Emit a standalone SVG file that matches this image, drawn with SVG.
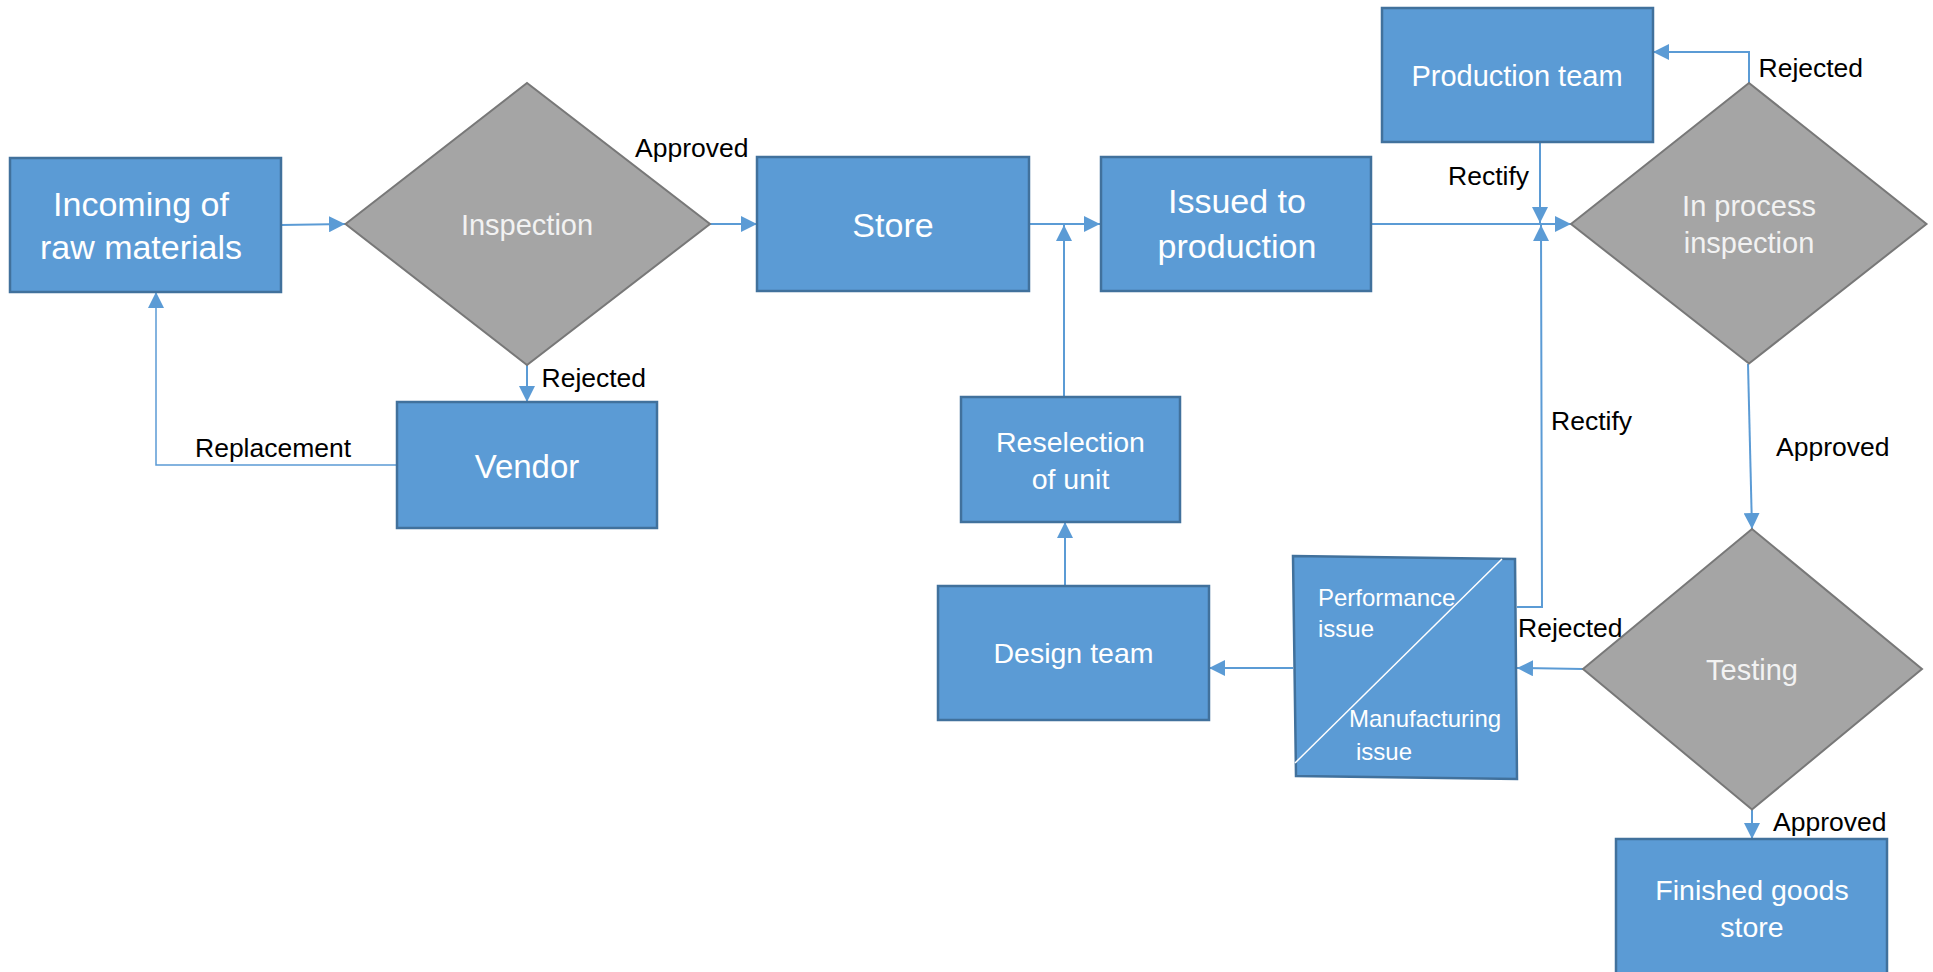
<svg xmlns="http://www.w3.org/2000/svg" width="1933" height="972" viewBox="0 0 1933 972">
<style>
.box{fill:#5B9BD5;stroke:#41719C;stroke-width:2.5}
.dia{fill:#A5A5A5;stroke:#787878;stroke-width:2}
.bt{font-family:"Liberation Sans",Arial,sans-serif;fill:#FFFFFF;text-anchor:middle}
.dt{font-family:"Liberation Sans",Arial,sans-serif;fill:#F2F2F2;text-anchor:middle;font-size:29px}
.lbl{font-family:"Liberation Sans",Arial,sans-serif;fill:#000000;font-size:26.5px}
.con{fill:none;stroke:#5B9BD5;stroke-width:2}
.thin{stroke-width:1.5}
</style>
<defs>
<marker id="ah" markerUnits="userSpaceOnUse" markerWidth="16" markerHeight="16" refX="15" refY="7.5" orient="auto" viewBox="0 0 15 15">
<path d="M0,0 L15,7.5 L0,15 z" fill="#5B9BD5"/>
</marker>
</defs>
<rect width="1933" height="972" fill="#FFFFFF"/>

<g id="connectors">
<path class="con" d="M281,225 L345,224" marker-end="url(#ah)"/>
<path class="con" d="M710,224 L757,224" marker-end="url(#ah)"/>
<path class="con" d="M527,365 L527,402" marker-end="url(#ah)"/>
<path class="con thin" d="M397,465 L156,465 L156,292" marker-end="url(#ah)"/>
<path class="con" d="M1029,224 L1100,224" marker-end="url(#ah)"/>
<path class="con" d="M1064,397 L1064,225" marker-end="url(#ah)"/>
<path class="con" d="M1065,586 L1065,522" marker-end="url(#ah)"/>
<path class="con" d="M1371,224 L1571,224" marker-end="url(#ah)"/>
<path class="con" d="M1540,142 L1540,223" marker-end="url(#ah)"/>
<path class="con" d="M1517,607 L1542,607 L1541,225" marker-end="url(#ah)"/>
<path class="con" d="M1749,83 L1749,52 L1653,52" marker-end="url(#ah)"/>
<path class="con" d="M1748,364 L1752,529" marker-end="url(#ah)"/>
<path class="con" d="M1583,669 L1517,668" marker-end="url(#ah)"/>
<path class="con" d="M1293,668 L1209,668" marker-end="url(#ah)"/>
<path class="con" d="M1752,810 L1752,839" marker-end="url(#ah)"/>
<text class="lbl" x="635" y="157">Approved</text>
<text class="lbl" x="541.5" y="387">Rejected</text>
<text class="lbl" x="195" y="457">Replacement</text>
<text class="lbl" x="1758.5" y="77">Rejected</text>
<text class="lbl" x="1448" y="185">Rectify</text>
<text class="lbl" x="1551" y="430">Rectify</text>
<text class="lbl" x="1776" y="456">Approved</text>
<text class="lbl" x="1518" y="637">Rejected</text>
<text class="lbl" x="1773" y="831">Approved</text>
</g>

<g id="incoming">
<rect class="box" x="10" y="158" width="271" height="134"/>
<text class="bt" font-size="34" x="141" y="216">Incoming of</text>
<text class="bt" font-size="34" x="141" y="259">raw materials</text>
</g>

<g id="inspection">
<polygon class="dia" points="345.5,224 527,83 710,224 527,365"/>
<text class="dt" x="527" y="235">Inspection</text>
</g>

<g id="store">
<rect class="box" x="757" y="157" width="272" height="134"/>
<text class="bt" font-size="34" x="893" y="237">Store</text>
</g>

<g id="issued">
<rect class="box" x="1101" y="157" width="270" height="134"/>
<text class="bt" font-size="34" x="1237" y="213">Issued to</text>
<text class="bt" font-size="34" x="1237" y="258">production</text>
</g>

<g id="production-team">
<rect class="box" x="1382" y="8" width="271" height="134"/>
<text class="bt" font-size="29" x="1517" y="86">Production team</text>
</g>

<g id="in-process-inspection">
<polygon class="dia" points="1571,224 1749,83 1926.5,224 1749,363.5"/>
<text class="dt" x="1749" y="216">In process</text>
<text class="dt" x="1749" y="253">inspection</text>
</g>

<g id="vendor">
<rect class="box" x="397" y="402" width="260" height="126"/>
<text class="bt" font-size="33" x="527" y="478">Vendor</text>
</g>

<g id="reselection">
<rect class="box" x="961" y="397" width="219" height="125"/>
<text class="bt" font-size="28.5" x="1070.5" y="452">Reselection</text>
<text class="bt" font-size="28.5" x="1070.5" y="489">of unit</text>
</g>

<g id="design-team">
<rect class="box" x="938" y="586" width="271" height="134"/>
<text class="bt" font-size="28.5" x="1073.5" y="663">Design team</text>
</g>

<g id="issue-split">
<polygon class="box" points="1293,556 1515,559 1517,779 1296,776"/>
<line x1="1502" y1="559" x2="1295" y2="763" stroke="#FFFFFF" stroke-width="1.5"/>
<text class="bt" font-size="24" text-anchor="start" style="text-anchor:start" x="1318" y="606">Performance</text>
<text class="bt" font-size="24" style="text-anchor:start" x="1318" y="637">issue</text>
<text class="bt" font-size="24" style="text-anchor:start" x="1349" y="727">Manufacturing</text>
<text class="bt" font-size="24" style="text-anchor:start" x="1356" y="760">issue</text>
</g>

<g id="testing">
<polygon class="dia" points="1583,669 1752,529 1922,669 1752,809.5"/>
<text class="dt" x="1752" y="680">Testing</text>
</g>

<g id="finished-goods-store">
<rect class="box" x="1616" y="839" width="271" height="140"/>
<text class="bt" font-size="28.5" x="1752" y="900">Finished goods</text>
<text class="bt" font-size="28.5" x="1752" y="936.5">store</text>
</g>
</svg>
